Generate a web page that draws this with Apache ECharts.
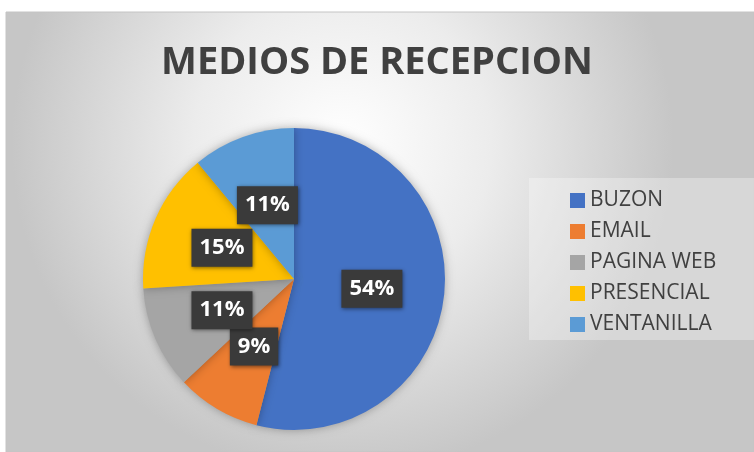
<!DOCTYPE html>
<html>
<head>
<meta charset="utf-8">
<script src="https://cdn.jsdelivr.net/npm/echarts@6/dist/echarts.min.js"></script>
<style>
html, body { margin: 0; padding: 0; background: #ffffff; }
#chart { width: 754px; height: 452px; }
</style>
</head>
<body>
<div id="chart"></div>
<script>
var categories = [ 'BUZON', 'EMAIL', 'PAGINA WEB', 'PRESENCIAL', 'VENTANILLA' ];
var percents = [ 54, 9, 11, 15, 11 ];
var colors = [ '#4472C4', '#ED7D31', '#A5A5A5', '#FFC000', '#5B9BD5' ];

function loadPieChart(chartId) {
	var myPie = echarts.init(document.getElementById(chartId));
	var pieData = [];
	for (var i = 0; i < categories.length; i++) {
		pieData.push({ name : categories[i], value : percents[i] });
	}
	var pieOption = {
		color : colors,
		animation : false,
		graphic : [ {
			type : 'rect',
			z : -10,
			shape : { x : 6, y : 12, width : 748, height : 440 },
			style : {
				fill : new echarts.graphic.RadialGradient(0.45, 0.3, 0.75, [
					{ offset : 0, color : '#ffffff' },
					{ offset : 0.45, color : '#ececec' },
					{ offset : 1, color : '#c6c6c6' }
				]),
				stroke : '#c4c4c4',
				lineWidth : 1
			}
		}, {
			// lighter panel behind the legend
			type : 'rect',
			z : -5,
			shape : { x : 529, y : 178, width : 225, height : 162 },
			style : { fill : 'rgba(255,255,255,0.3)' }
		} ],
		title : {
			text : 'MEDIOS DE RECEPCION',
			left : 'center',
			top : 39,
			textStyle : {
				fontFamily : 'Open Sans',
				fontWeight : 'bold',
				fontSize : 38,
				color : '#404040'
			}
		},
		legend : {
			orient : 'vertical',
			left : 565,
			top : 185,
			itemWidth : 15,
			itemHeight : 15,
			itemGap : 10,
			icon : 'rect',
			data : categories,
			textStyle : {
				fontFamily : 'Open Sans',
				fontSize : 21,
				color : '#404040',
				padding : [ 0, 0, 0, 0 ]
			}
		},
		series : [ {
			name : 'MEDIOS DE RECEPCION',
			type : 'pie',
			center : [ 294, 279 ],
			radius : 151,
			startAngle : 90,
			clockwise : true,
			avoidLabelOverlap : false,
			labelLayout : { hideOverlap : false },
			itemStyle : {
				shadowBlur : 10,
				shadowColor : 'rgba(0,0,0,0.3)'
			},
			label : {
				show : true,
				position : 'inside',
				formatter : '{c}%',
				fontFamily : 'Open Sans',
				fontWeight : 'bold',
				fontSize : 22,
				color : '#ffffff',
				backgroundColor : '#3a3a3a',
				padding : [ 9, 8, 7, 8 ],
				shadowBlur : 4,
				shadowColor : 'rgba(0,0,0,0.5)',
				shadowOffsetX : 1,
				shadowOffsetY : 1
			},
			labelLine : { show : false },
			data : pieData
		} ]
	};
	myPie.setOption(pieOption);
}

loadPieChart('chart');
</script>
</body>
</html>
